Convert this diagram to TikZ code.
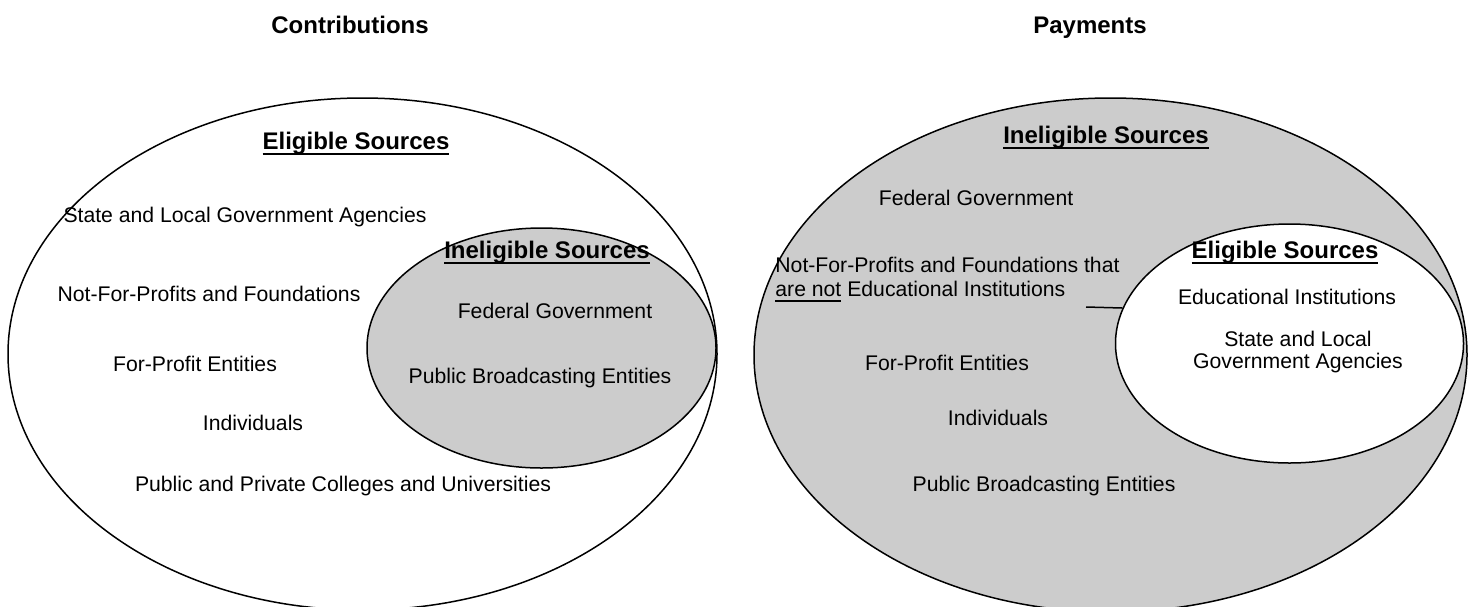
\documentclass[tikz,border=0pt]{standalone}
\usepackage{fontspec}
\setmainfont{Liberation Sans}
\usetikzlibrary{
  shapes.geometric
  , calc
}
\newsavebox\UlineBox
\newcommand{\Uline}[2]{\sbox\UlineBox{#2}\rlap{\rule[-2.9pt]{\wd\UlineBox}{#1}}\usebox\UlineBox}
\tikzset{
  SrcText/.style={inner sep=0pt, font=\fontsize{10.6}{12}\selectfont,
    text height=9.5pt, text depth=1.9pt},
  SrcLines/.style={inner sep=0pt, font=\fontsize{10.6}{12}\selectfont},
  HeadText/.style={inner sep=0pt, font=\bfseries\fontsize{12}{14}\selectfont,
    text height=10.8pt, text depth=2.2pt},
  SetShape/.style={draw, ellipse, inner sep=0pt, line width=0.75pt},
}

\begin{document}
\begin{tikzpicture}[x=0.5pt, y=-0.5pt]
      \def\SetGray {gray!40};
      \useasboundingbox (0,0) rectangle (1472,606);

      % Contributions
      \node [SetShape,
        fill=\SetGray,
        minimum width=174.5pt,
        minimum height=120pt,
      ] (ContribInner) at (541.5,348){};
      \node [SetShape,
        minimum width=354.5pt,
        minimum height=256pt,
      ] (ContribOuter) at (362.5,354){};

      \node[HeadText] (ContribTitle) at (350,25) {Contributions};
      \node[HeadText] (ContribEligHead) at (356,141) {\Uline{1.2pt}{Eligible Sources}};
      \node[SrcText] (ContribState) at (245,215) {State and Local Government Agencies};
      \node[HeadText] (ContribInelHead) at (547,250) {\Uline{1.2pt}{Ineligible Sources}};
      \node[SrcText] (ContribNFP) at (209,294) {Not-For-Profits and Foundations};
      \node[SrcText] (ContribFed) at (555,311) {Federal Government};
      \node[SrcText] (ContribForProfit) at (195,364) {For-Profit Entities};
      \node[SrcText] (ContribPBE) at (540,376) {Public Broadcasting Entities};
      \node[SrcText] (ContribIndiv) at (253,423) {Individuals};
      \node[SrcText] (ContribColleges) at (343,484) {Public and Private Colleges and Universities};

      % Payments
      \node [SetShape,
        fill=\SetGray,
        minimum width=356.5pt,
        minimum height=257pt,
      ] (PaymOuter) at (1110.5,355){};
      \node [SetShape,
        fill=white,
        minimum width=174pt,
        minimum height=119.5pt,
      ] (PaymInner) at (1289.5,343.5){};

      \node[HeadText] (PaymTitle) at (1090,25) {Payments};
      \node[HeadText] (PaymInelHead) at (1106,135) {\Uline{1.2pt}{Ineligible Sources}};
      \node[SrcText] (PaymFed) at (976,198) {Federal Government};
      \node[SrcLines, align=left, anchor=base west] (PaymNFP) at (775,296)
        {Not-For-Profits and Foundations that\\\Uline{0.7pt}{are not} Educational Institutions};
      \coordinate (NoteTick) at (1086,307);
      \draw[line width=0.75pt] (NoteTick) -- (PaymInner.168);
      \node[HeadText] (PaymEligHead) at (1285,250) {\Uline{1.2pt}{Eligible Sources}};
      \node[SrcText] (PaymEdu) at (1287,297) {Educational Institutions};
      \node[SrcLines, align=center, anchor=base] (PaymState) at (1298,368)
        {State and Local\\[-1.1pt]Government Agencies};
      \node[SrcText] (PaymForProfit) at (947,363) {For-Profit Entities};
      \node[SrcText] (PaymIndiv) at (998,418) {Individuals};
      \node[SrcText] (PaymPBE) at (1044,484) {Public Broadcasting Entities};

\end{tikzpicture}
\end{document}
